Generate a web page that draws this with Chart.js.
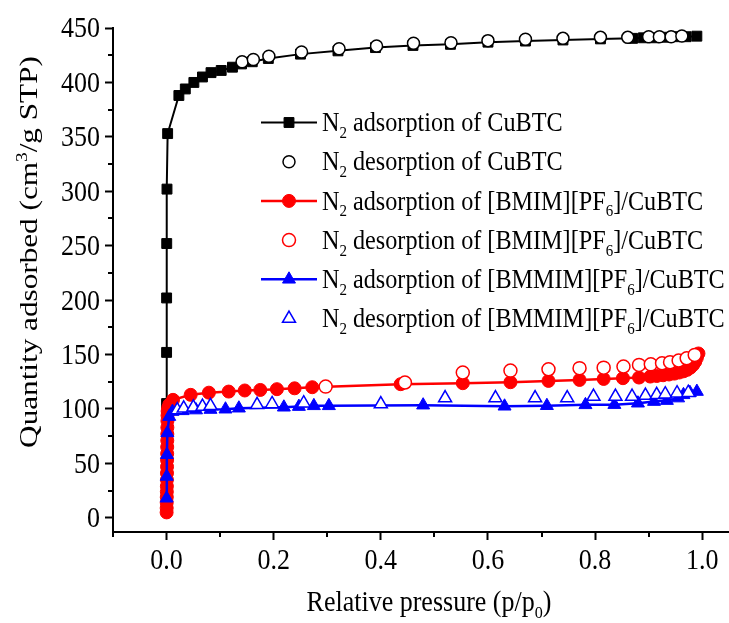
<!DOCTYPE html>
<html>
<head>
<meta charset="utf-8">
<script src="https://cdn.jsdelivr.net/npm/chart.js@4.4.0/dist/chart.umd.min.js"></script>
<style>
html, body { margin: 0; padding: 0; background: #fff; }
#wrap { position: relative; width: 729px; height: 623px; }
</style>
</head>
<body>
<div id="wrap"><canvas id="isotherm"></canvas></div>
<script>
// N2 isotherms
var cuAdsX = [0.00002, 0.00005, 0.0001, 0.0003, 0.0008, 0.002, 0.023, 0.035, 0.051, 0.067, 0.083, 0.102, 0.123, 0.14, 0.16, 0.19, 0.25, 0.32, 0.39, 0.46, 0.53, 0.60, 0.67, 0.74, 0.81, 0.87, 0.89, 0.91, 0.93, 0.95, 0.97, 0.99];
var cuAdsY = [105, 152, 202, 252, 302, 353, 388, 394, 400, 405, 409, 411, 414, 417, 419, 422, 426, 429, 432, 434, 435, 437, 438, 439, 440, 440.5, 441, 441, 441.5, 442, 442, 442.5];

var cuDesX = [0.141, 0.162, 0.191, 0.252, 0.322, 0.392, 0.461, 0.531, 0.60, 0.67, 0.74, 0.81, 0.861, 0.90, 0.92, 0.942, 0.962];
var cuDesY = [419, 421, 424, 428, 431, 433.5, 436, 436.5, 438.4, 439.6, 440.5, 441.4, 441.4, 442, 442, 442, 442.6];

var bmimAdsX = [0.0001, 0.0002, 0.0003, 0.0004, 0.0005, 0.0006, 0.0007, 0.0008, 0.0009, 0.001, 0.0011, 0.0012, 0.0013, 0.0014, 0.0015, 0.0016, 0.0018, 0.002, 0.003, 0.005, 0.012, 0.045, 0.079, 0.116, 0.146, 0.175, 0.206, 0.239, 0.272, 0.437, 0.553, 0.642, 0.713, 0.771, 0.816, 0.852, 0.882, 0.903, 0.915, 0.927, 0.938, 0.948, 0.957, 0.965, 0.972, 0.978, 0.983, 0.987, 0.99, 0.993];
var bmimAdsY = [5, 9, 14, 19, 24, 29, 35, 41, 47, 53, 59, 65, 71, 77, 83, 89, 94, 98, 101, 104, 108.4, 113, 115, 116, 117, 117.5, 118.2, 119, 120, 122.8, 123.7, 124.6, 125.8, 126.7, 127.6, 128.3, 128.9, 129.8, 130.3, 131, 131.7, 132.5, 133.5, 134.6, 136, 138, 140.5, 143.5, 147, 151];

var bmimDesX = [0.297, 0.445, 0.553, 0.642, 0.713, 0.771, 0.816, 0.853, 0.882, 0.904, 0.925, 0.94, 0.956, 0.971, 0.986];
var bmimDesY = [120.6, 124.3, 133.5, 135.3, 136.5, 137.5, 138, 139, 140.5, 141, 142, 143, 144.5, 146.6, 149.7];

var bmmimAdsX = [0.0001, 0.0003, 0.0007, 0.0015, 0.005, 0.011, 0.03, 0.055, 0.082, 0.11, 0.135, 0.219, 0.247, 0.275, 0.303, 0.479, 0.631, 0.71, 0.782, 0.836, 0.88, 0.91, 0.934, 0.955, 0.965, 0.977, 0.99];
var bmmimAdsY = [18, 38, 58, 78, 93, 97.6, 98.3, 99, 99.5, 99.8, 100.7, 101.6, 102.2, 102.9, 102.9, 103.5, 102.5, 103, 103.8, 104, 105.3, 106.8, 107.7, 110, 113, 115, 116];

var bmmimDesX = [0.02, 0.032, 0.05, 0.067, 0.082, 0.169, 0.197, 0.256, 0.40, 0.52, 0.614, 0.688, 0.748, 0.797, 0.838, 0.869, 0.894, 0.915, 0.931, 0.953, 0.974];
var bmmimDesY = [99, 100.6, 101.6, 102.2, 102.9, 103.8, 104.7, 105.3, 104.5, 110, 110, 110, 110, 111.4, 111.4, 111.4, 112.3, 113, 113.6, 114.5, 115];

// Axis ticks
var xTickVals = [0, 0.2, 0.4, 0.6, 0.8, 1.0];
var xTickLabels = ['0.0', '0.2', '0.4', '0.6', '0.8', '1.0'];
var xMinorVals = [-0.1, 0.1, 0.3, 0.5, 0.7, 0.9];
var yTickVals = [0, 50, 100, 150, 200, 250, 300, 350, 400, 450];
var yTickLabels = ['0', '50', '100', '150', '200', '250', '300', '350', '400', '450'];
var yMinorVals = [25, 75, 125, 175, 225, 275, 325, 375, 425];

// Legend text, pieces with sub/superscripts
var legendLabels = [
    [['N', ''], ['2', 'sub'], [' adsorption of CuBTC', '']],
    [['N', ''], ['2', 'sub'], [' desorption of CuBTC', '']],
    [['N', ''], ['2', 'sub'], [' adsorption of [BMIM][PF', ''], ['6', 'sub'], [']/CuBTC', '']],
    [['N', ''], ['2', 'sub'], [' desorption of [BMIM][PF', ''], ['6', 'sub'], [']/CuBTC', '']],
    [['N', ''], ['2', 'sub'], [' adsorption of [BMMIM][PF', ''], ['6', 'sub'], [']/CuBTC', '']],
    [['N', ''], ['2', 'sub'], [' desorption of [BMMIM][PF', ''], ['6', 'sub'], [']/CuBTC', '']]
];
var xTitle = [['Relative pressure (p/p', ''], ['0', 'sub'], [')', '']];
var yTitle = [['Quantity adsorbed (cm', ''], ['3', 'sup'], ['/g STP)', '']];

var FONT = '"Liberation Serif", "Times New Roman", serif';
var STRETCH = 1.1;   // el original esta estirado en vertical

function toPoints(xs, ys) {
    var pts = [];
    for (var i = 0; i < xs.length; i++) {
        pts.push({ x: xs[i], y: ys[i] });
    }
    return pts;
}

// Dibuja texto con subindices / superindices
function drawRich(ctx, parts, x, y, size, align, sx, sy) {
    var w = 0;
    parts.forEach(function(p) {
        ctx.font = (p[1] ? size * 0.62 : size) + 'px ' + FONT;
        w += ctx.measureText(p[0]).width;
    });
    ctx.save();
    ctx.translate(x, y);
    ctx.scale(sx || 1, sy || 1);
    var cx = align === 'center' ? -w / 2 : (align === 'right' ? -w : 0);
    ctx.textAlign = 'left';
    ctx.textBaseline = 'alphabetic';
    parts.forEach(function(p) {
        var s = p[1] ? size * 0.62 : size;
        ctx.font = s + 'px ' + FONT;
        var dy = p[1] === 'sub' ? size * 0.26 : (p[1] === 'sup' ? -size * 0.38 : 0);
        ctx.fillText(p[0], cx, dy);
        cx += ctx.measureText(p[0]).width;
    });
    ctx.restore();
}

var extrasPlugin = {
    id: 'extras',
    afterDraw: function(chart) {
        var ctx = chart.ctx;
        var xs = chart.scales.x, ys = chart.scales.y;
        var area = chart.chartArea;
        ctx.save();
        ctx.strokeStyle = '#000';
        ctx.lineWidth = 2;
        // minor ticks
        xMinorVals.forEach(function(v) {
            var px = Math.round(xs.getPixelForValue(v));
            ctx.beginPath();
            ctx.moveTo(px, area.bottom);
            ctx.lineTo(px, area.bottom + 5);
            ctx.stroke();
        });
        yMinorVals.forEach(function(v) {
            var py = Math.round(ys.getPixelForValue(v));
            ctx.beginPath();
            ctx.moveTo(area.left, py);
            ctx.lineTo(area.left - 5, py);
            ctx.stroke();
        });

        ctx.fillStyle = '#000';
        // tick labels
        var capH = 26 * 0.66 * STRETCH;
        xTickVals.forEach(function(v, i) {
            drawRich(ctx, [[xTickLabels[i], '']], xs.getPixelForValue(v), 569, 26, 'center', 1, STRETCH);
        });
        yTickVals.forEach(function(v, i) {
            drawRich(ctx, [[yTickLabels[i], '']], 100, ys.getPixelForValue(v) + capH / 2, 26, 'right', 1, STRETCH);
        });

        // axis titles
        drawRich(ctx, xTitle, 429, 611, 26, 'center', 1, STRETCH);
        ctx.save();
        ctx.translate(37, 252);
        ctx.rotate(-Math.PI / 2);
        drawRich(ctx, yTitle, 0, 0, 26, 'center', 1.2, 1);
        ctx.restore();

        // legend
        var rowY = 122.5, step = 39.2;
        chart.data.datasets.forEach(function(ds, i) {
            var y = rowY + i * step;
            if (ds.showLine) {
                ctx.strokeStyle = ds.borderColor;
                ctx.lineWidth = ds.borderWidth;
                ctx.beginPath();
                ctx.moveTo(261, y);
                ctx.lineTo(317, y);
                ctx.stroke();
            }
            ctx.fillStyle = ds.pointBackgroundColor;
            ctx.strokeStyle = ds.pointBorderColor;
            ctx.lineWidth = ds.pointBorderWidth;
            Chart.helpers.drawPoint(ctx, {
                pointStyle: ds.pointStyle,
                radius: ds.pointRadius,
                rotation: 0,
                borderWidth: ds.pointBorderWidth
            }, 289, y);
            ctx.fillStyle = '#000';
            drawRich(ctx, legendLabels[i], 322, y + 8.6, 24.2, 'left', 1, STRETCH);
        });
        ctx.restore();
    }
};

var ctx = document.getElementById('isotherm');
var isothermChart = new Chart(ctx, {
    type: 'scatter',
    data: {
        datasets: [{
            label: 'N2 adsorption of CuBTC',
            data: toPoints(cuAdsX, cuAdsY),
            showLine: true,
            borderColor: '#000000',
            borderWidth: 2,
            pointStyle: 'rect',
            pointRadius: 7,
            pointBackgroundColor: '#000000',
            pointBorderColor: '#000000',
            pointBorderWidth: 1,
            order: 6
        }, {
            label: 'N2 desorption of CuBTC',
            data: toPoints(cuDesX, cuDesY),
            showLine: false,
            borderColor: '#000000',
            pointStyle: 'circle',
            pointRadius: 6,
            pointBackgroundColor: '#ffffff',
            pointBorderColor: '#000000',
            pointBorderWidth: 1.5,
            order: 5
        }, {
            label: 'N2 adsorption of [BMIM][PF6]/CuBTC',
            data: toPoints(bmimAdsX, bmimAdsY),
            showLine: true,
            borderColor: '#ff0000',
            borderWidth: 2.5,
            pointStyle: 'circle',
            pointRadius: 6.5,
            pointBackgroundColor: '#ff0000',
            pointBorderColor: '#ff0000',
            pointBorderWidth: 1,
            order: 4
        }, {
            label: 'N2 desorption of [BMIM][PF6]/CuBTC',
            data: toPoints(bmimDesX, bmimDesY),
            showLine: false,
            borderColor: '#ff0000',
            pointStyle: 'circle',
            pointRadius: 6.5,
            pointBackgroundColor: '#ffffff',
            pointBorderColor: '#ff0000',
            pointBorderWidth: 1.5,
            order: 3
        }, {
            label: 'N2 adsorption of [BMMIM][PF6]/CuBTC',
            data: toPoints(bmmimAdsX, bmmimAdsY),
            showLine: true,
            borderColor: '#0000ff',
            borderWidth: 2.5,
            pointStyle: 'triangle',
            pointRadius: 7.5,
            pointBackgroundColor: '#0000ff',
            pointBorderColor: '#0000ff',
            pointBorderWidth: 1,
            order: 2
        }, {
            label: 'N2 desorption of [BMMIM][PF6]/CuBTC',
            data: toPoints(bmmimDesX, bmmimDesY),
            showLine: false,
            borderColor: '#0000ff',
            pointStyle: 'triangle',
            pointRadius: 7.5,
            pointBackgroundColor: '#ffffff',
            pointBorderColor: '#0000ff',
            pointBorderWidth: 1.5,
            order: 1
        }]
    },
    options: {
        responsive: true,
        maintainAspectRatio: false,
        animation: false,
        devicePixelRatio: 1,
        layout: { autoPadding: false, padding: { top: 28, right: 0, left: 0, bottom: 0 } },
        elements: { line: { tension: 0 } },
        plugins: {
            legend: { display: false },
            tooltip: { enabled: false }
        },
        scales: {
            x: {
                type: 'linear',
                min: -0.1,
                max: 1.05,
                afterBuildTicks: function(scale) {
                    scale.ticks = xTickVals.map(function(v) { return { value: v }; });
                },
                afterFit: function(scale) {
                    scale.height = 91;
                    scale.paddingLeft = 0;
                    scale.paddingRight = 0;
                },
                ticks: { display: false },
                grid: { drawOnChartArea: false, drawTicks: true, tickLength: 8, tickWidth: 2, tickColor: '#000' },
                border: { display: true, color: '#000', width: 2 }
            },
            y: {
                type: 'linear',
                min: -13,
                max: 450,
                afterBuildTicks: function(scale) {
                    scale.ticks = yTickVals.map(function(v) { return { value: v }; });
                },
                afterFit: function(scale) {
                    scale.width = 113;
                    scale.paddingTop = 0;
                    scale.paddingBottom = 0;
                },
                ticks: { display: false },
                grid: { drawOnChartArea: false, drawTicks: true, tickLength: 8, tickWidth: 2, tickColor: '#000' },
                border: { display: true, color: '#000', width: 2 }
            }
        }
    },
    plugins: [extrasPlugin]
});
</script>
</body>
</html>
